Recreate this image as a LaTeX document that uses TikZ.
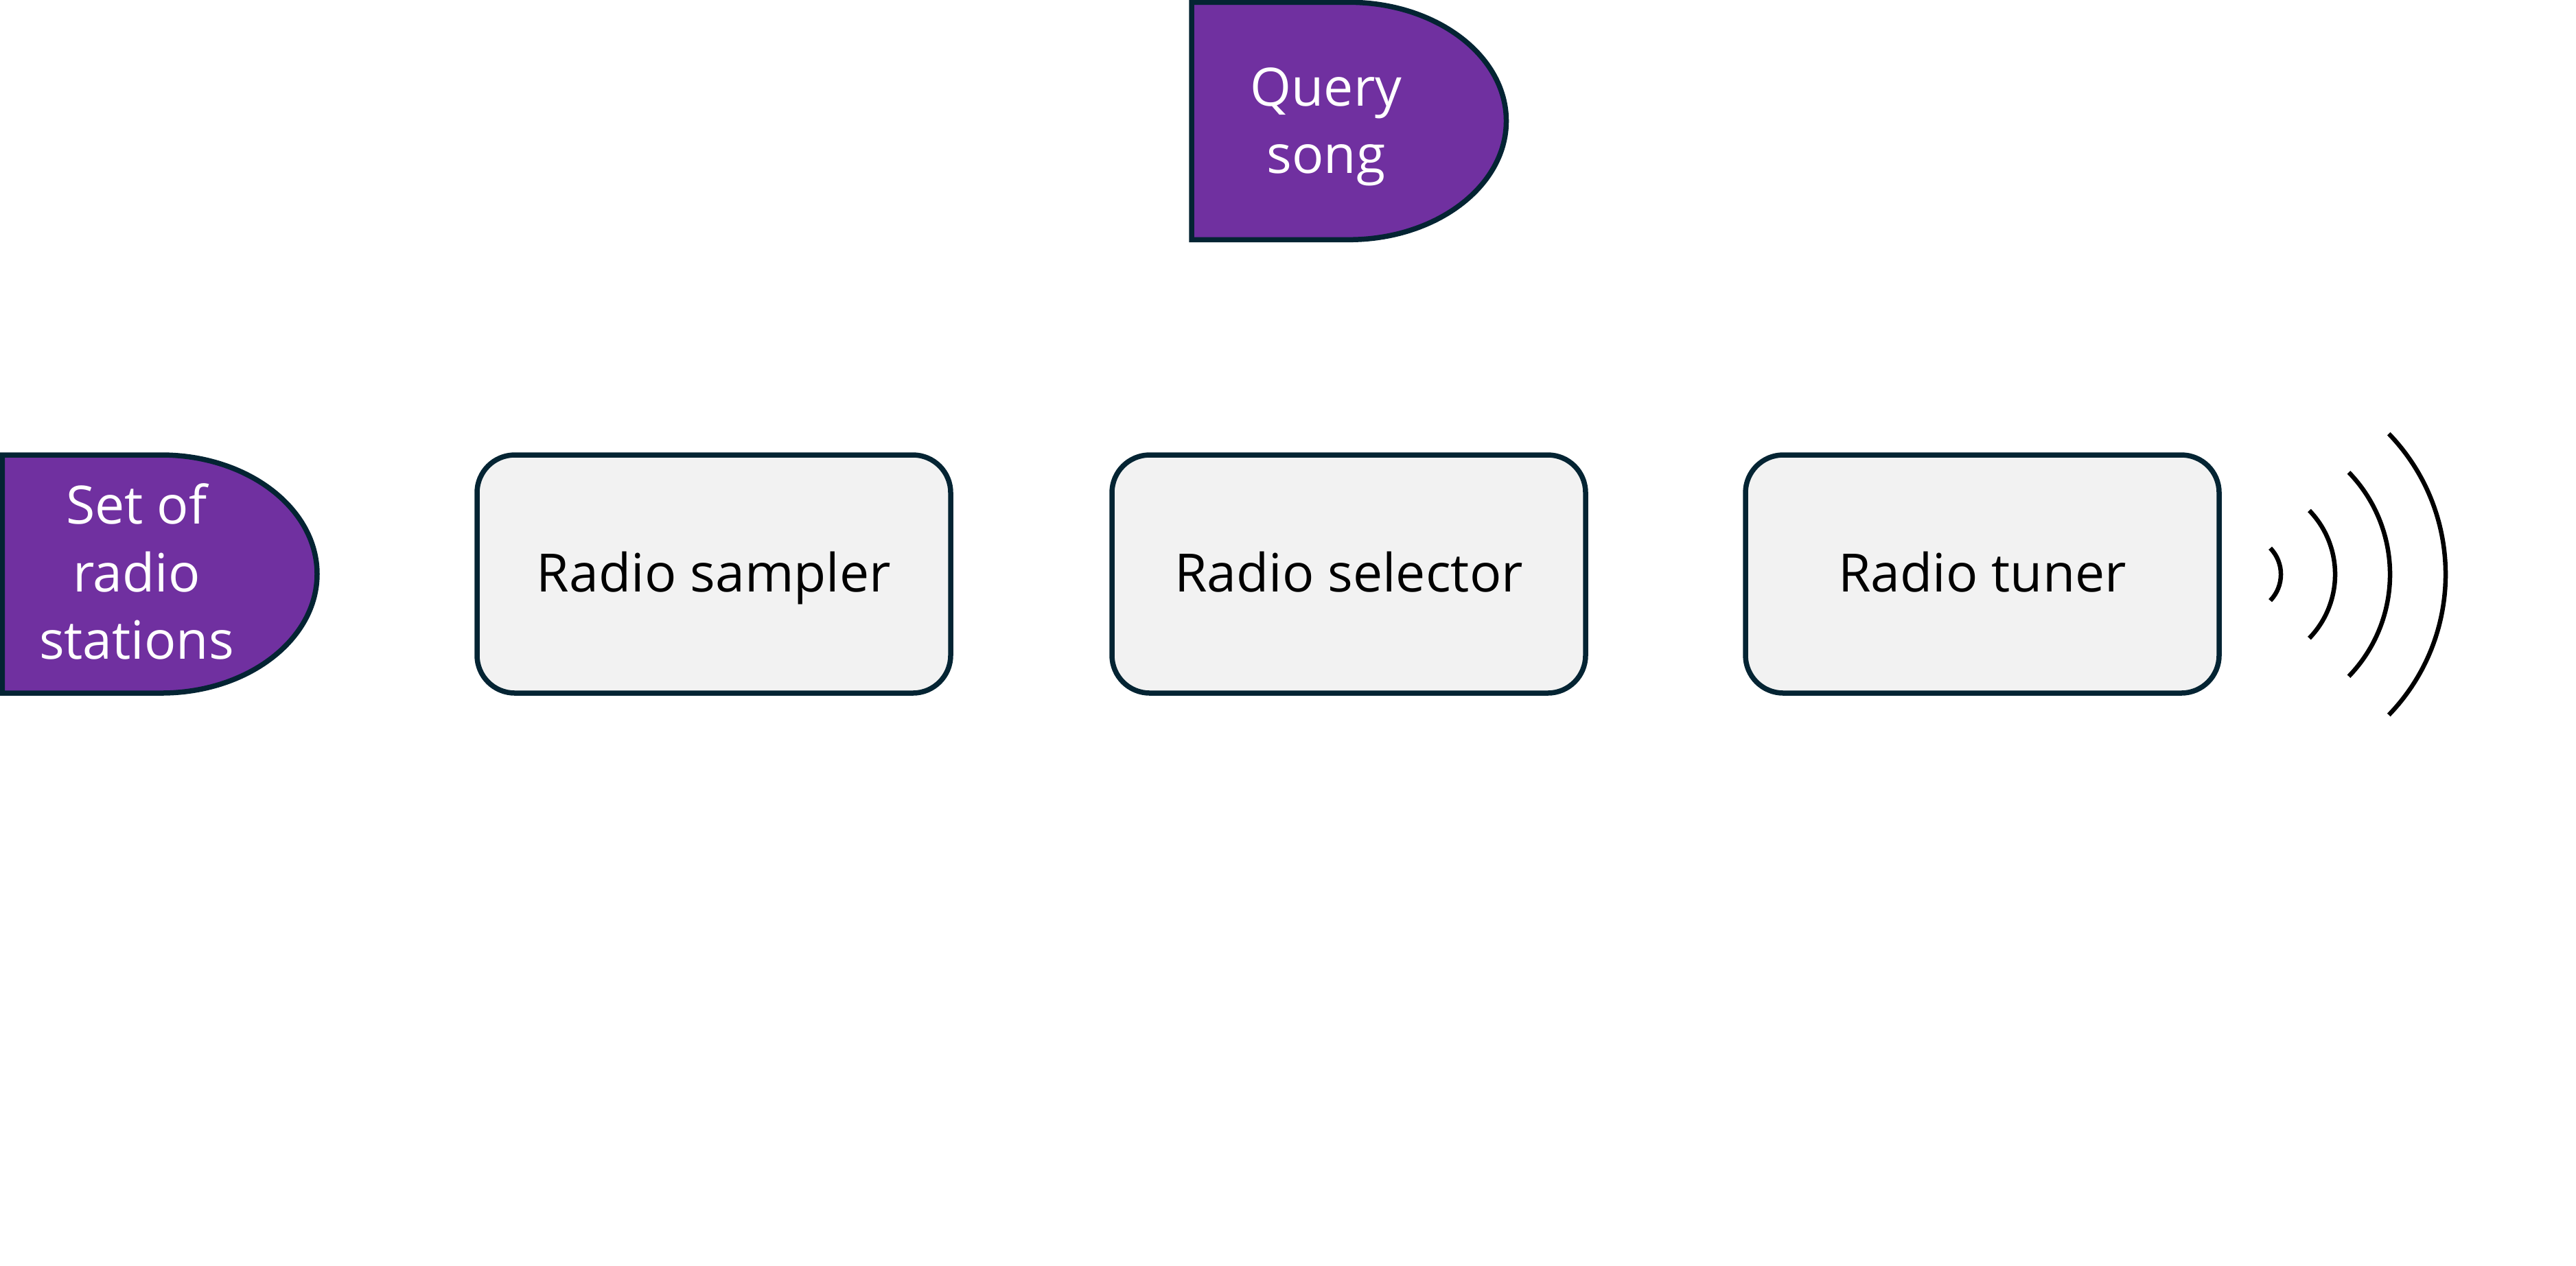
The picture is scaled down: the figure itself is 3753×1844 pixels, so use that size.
\documentclass[tikz,border=0pt]{standalone}
\usepackage{fontspec}
\setmainfont{Open Sans}
\definecolor{darkline}{HTML}{042433}
\definecolor{boxfill}{HTML}{F2F2F2}
\definecolor{delayfill}{HTML}{7030A0}
\tikzset{
  every picture/.style={line width=1.5pt},
  blockbox/.style={draw=darkline,fill=boxfill,rectangle,rounded corners=11pt,minimum width=138pt,minimum height=69.4pt,inner sep=0pt,text=black,text height=13pt,text depth=2.8pt,font=\fontsize{15.4}{19.7}\selectfont},
  delayshape/.style={draw=darkline,fill=delayfill,line join=miter},
  delaytext/.style={align=center,text=white,inner sep=0pt,font=\fontsize{15.4}{19.7}\selectfont},
  wave/.style={draw=black,line width=1.3pt}
}

\begin{document}
\begin{tikzpicture}[x=0.2pt,y=0.2pt,yscale=-1,xscale=1]
\useasboundingbox (0,0) rectangle (3753,1844);

% Query
\draw[delayshape] (1736,3.3) -- (1965,3.3) arc[start angle=-90,end angle=90,x radius=229.5,y radius=173] -- (1736,349.3) -- cycle;
\node[delaytext] (querysong) at (1932,185) {Query\\song};

% Stations
\draw[delayshape] (3.3,663) -- (235,663) arc[start angle=-90,end angle=90,x radius=227,y radius=173.5] -- (3.3,1010) -- cycle;
\node[delaytext] (stations) at (199,833) {Set of\\radio\\stations};

% Blocks
\node[blockbox] (sampler) at (1040,836.5) {Radio sampler};
\node[blockbox] (selector) at (1965,836.5) {Radio selector};
\node[blockbox] (tuner) at (2888,836.5) {Radio tuner};

% Waves
\draw[wave] (3268,837) ++(-44:55) arc[start angle=-44,end angle=44,radius=55];
\draw[wave] (3268,837) ++(-44:134) arc[start angle=-44,end angle=44,radius=134];
\draw[wave] (3268,837) ++(-44:214) arc[start angle=-44,end angle=44,radius=214];
\draw[wave] (3268,837) ++(-44:295) arc[start angle=-44,end angle=44,radius=295];

\end{tikzpicture}
\end{document}
